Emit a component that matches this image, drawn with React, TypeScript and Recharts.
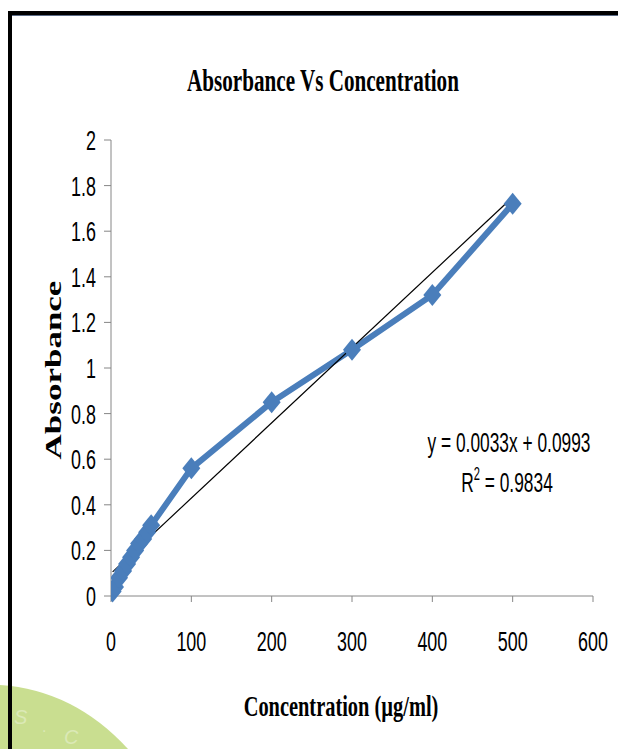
import React from "react";
import {
  ComposedChart,
  Line,
  XAxis,
  YAxis,
} from "recharts";

// measured points
const concentrations = [2, 5, 10, 15, 20, 25, 30, 35, 40, 45, 50, 100, 200, 300, 400, 500];
const absorbances = [0.02, 0.04, 0.08, 0.11, 0.14, 0.17, 0.2, 0.23, 0.25, 0.28, 0.31, 0.56, 0.85, 1.08, 1.32, 1.72];

// linear fit shown on the chart
const slope = 0.0033;
const intercept = 0.0993;
const rSquared = "0.9834";

const xTicks = [0, 100, 200, 300, 400, 500, 600];
const yTicks = [0, 0.2, 0.4, 0.6, 0.8, 1, 1.2, 1.4, 1.6, 1.8, 2];

const points = concentrations.map((x, i) => ({ x, y: absorbances[i] }));
const xMin = Math.min(...concentrations);
const xMax = Math.max(...concentrations);
const trend = [
  { x: xMin, y: slope * xMin + intercept },
  { x: xMax, y: slope * xMax + intercept },
];

const BLUE = "#4a7ebb";
const AXIS = "#868686";
const SQUEEZE = 0.64;

const Diamond = (props: any) => {
  const { cx, cy } = props;
  if (cx == null || cy == null) return null;
  return (
    <polygon
      points={`${cx},${cy - 11} ${cx + 9},${cy} ${cx},${cy + 11} ${cx - 9},${cy}`}
      fill={BLUE}
    />
  );
};

const YTick = ({ x, y, payload }: any) => (
  <text
    transform={`translate(${x},${y + 10}) scale(${SQUEEZE},1)`}
    textAnchor="end"
    fontSize={28}
    fontFamily="Liberation Sans, Arial, sans-serif"
    fill="#000"
  >
    {payload.value}
  </text>
);

const XTick = ({ x, y, payload }: any) => (
  <text
    transform={`translate(${x},${y + 47}) scale(${SQUEEZE},1)`}
    textAnchor="middle"
    fontSize={28}
    fontFamily="Liberation Sans, Arial, sans-serif"
    fill="#000"
  >
    {payload.value}
  </text>
);

const serif = "Liberation Serif, Times New Roman, serif";
const sans = "Liberation Sans, Arial, sans-serif";

export default function App() {
  return (
    <div
      style={{
        position: "absolute",
        left: 0,
        top: 0,
        width: 618,
        height: 749,
        background: "#fff",
        overflow: "hidden",
      }}
    >
      {/* watermark arc */}
      <svg width={618} height={749} style={{ position: "absolute", left: 0, top: 0 }}>
        <path d="M0,685 Q74,690 128,749 L0,749 Z" fill="#c9de90" />
        <text x={14} y={724} fontSize={20} fontStyle="italic" fill="#dbe9b6" fontFamily={sans}>S</text>
        <text x={42} y={732} fontSize={16} fill="#dbe9b6" fontFamily={sans}>.</text>
        <text x={64} y={744} fontSize={20} fontStyle="italic" fill="#dbe9b6" fontFamily={sans}>C</text>
      </svg>

      <div style={{ position: "absolute", left: 0, top: 0 }}>
        <ComposedChart
          width={618}
          height={749}
          margin={{ top: 140, right: 25, bottom: 113, left: 0 }}
        >
          <XAxis
            type="number"
            dataKey="x"
            domain={[0, 600]}
            ticks={xTicks}
            allowDataOverflow
            stroke={AXIS}
            tickSize={6}
            tickLine={{ stroke: AXIS }}
            tick={<XTick />}
            height={40}
          />
          <YAxis
            type="number"
            dataKey="y"
            domain={[0, 2]}
            ticks={yTicks}
            stroke={AXIS}
            tickSize={7}
            tickMargin={8}
            tickLine={{ stroke: AXIS }}
            tick={<YTick />}
            width={111}
          />
          <Line
            data={points}
            dataKey="y"
            stroke={BLUE}
            strokeWidth={6}
            dot={<Diamond />}
            activeDot={false}
            isAnimationActive={false}
          />
          <Line
            data={trend}
            dataKey="y"
            stroke="#000"
            strokeWidth={1.2}
            dot={false}
            activeDot={false}
            isAnimationActive={false}
          />
        </ComposedChart>
      </div>

      {/* titles and fit label */}
      <svg
        width={618}
        height={749}
        style={{ position: "absolute", left: 0, top: 0, pointerEvents: "none" }}
      >
        <text
          transform="translate(323,91) scale(0.66,1)"
          textAnchor="middle"
          fontSize={32}
          fontWeight="bold"
          fontFamily={serif}
        >
          Absorbance Vs Concentration
        </text>
        <text
          transform="translate(341,716) scale(0.68,1)"
          textAnchor="middle"
          fontSize={30}
          fontWeight="bold"
          fontFamily={serif}
        >
          Concentration (µg/ml)
        </text>
        <text
          transform="translate(61,370) scale(0.65,1) rotate(-90)"
          textAnchor="middle"
          fontSize={35}
          fontWeight="bold"
          fontFamily={serif}
        >
          Absorbance
        </text>
        <text
          transform="translate(509,452) scale(0.62,1)"
          textAnchor="middle"
          fontSize={28}
          fontFamily={sans}
        >
          {`y = ${slope}x + ${intercept}`}
        </text>
        <text
          transform="translate(507,492) scale(0.62,1)"
          textAnchor="middle"
          fontSize={28}
          fontFamily={sans}
        >
          R<tspan fontSize={18} dy={-12}>2</tspan>
          <tspan dy={12}>{` = ${rSquared}`}</tspan>
        </text>
      </svg>

      {/* frame */}
      <div
        style={{
          position: "absolute",
          left: 8,
          top: 11,
          width: 640,
          height: 760,
          borderTop: "4px solid #000",
          borderLeft: "4px solid #000",
          boxShadow: "inset 0 1px 0 #5b6b86",
        }}
      />
    </div>
  );
}
